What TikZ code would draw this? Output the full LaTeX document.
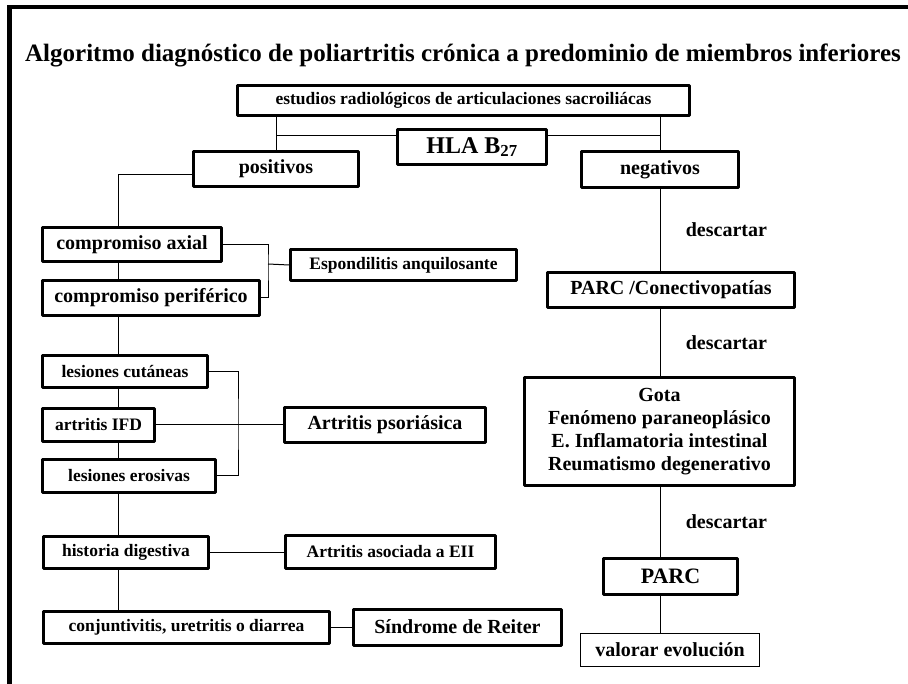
\documentclass[tikz,border=0pt]{standalone}
\usepackage{fontspec}
\setmainfont{Liberation Serif}

\begin{document}
\begin{tikzpicture}[x=1pt,y=-1pt,
					line width=1pt,
					%line join=round,
					big/.style={font=\bfseries\fontsize{20}{23}\selectfont},
					small/.style={font=\bfseries\fontsize{17.5}{20}\selectfont},
					sz/.style 2 args={minimum width=#1pt,minimum height=#2pt},
					main node/.style={rectangle,draw,line width=3pt,line join=round,fill=white,inner sep=0pt},
					thin node/.style={rectangle,draw,line width=1pt,fill=white,inner sep=0pt},
					label node/.style={anchor=west,xshift=22pt,big}]

  \useasboundingbox (0,0) rectangle (908,684);
  \draw[line width=4.5pt] (9.5,684) |- (908,7);

  \node[anchor=base,font=\bfseries\fontsize{25}{29}\selectfont] (title) at (463,62)
    {Algoritmo diagnóstico de poliartritis crónica a predominio de miembros inferiores};

  % top
  \node[main node,small,sz={452}{30}] (est) at (463.5,100.5) {estudios radiológicos de articulaciones sacroiliácas};
  \node[main node,big,sz={165}{35}] (pos) at (276,169) {positivos};
  \node[main node,big,sz={157}{36}] (neg) at (660,169.5) {negativos};
  \coordinate (hl) at (276,136);
  \coordinate (hr) at (660,136);
  \draw (est.south -| pos) -- (pos.north);
  \draw (est.south -| neg) -- (neg.north);
  \draw (hl) -- (hr);
  \node[main node,font=\bfseries\fontsize{24}{28}\selectfont,sz={149}{35}] (hla) at (472,147) {HLA B\textsubscript{27}};

  % left column
  \node[main node,big,sz={179}{34}] (ax) at (132,244.5) {compromiso axial};
  \node[main node,big,sz={217}{35}] (per) at (151,298) {compromiso periférico};
  \node[main node,small,sz={226}{31}] (esp) at (403.5,265) {Espondilitis anquilosante};
  \node[main node,small,sz={165}{32}] (cut) at (125,371.5) {lesiones cutáneas};
  \node[main node,small,sz={112}{33}] (ifd) at (98.5,425) {artritis IFD};
  \node[main node,big,sz={201}{35}] (pso) at (385,425) {Artritis psoriásica};
  \node[main node,small,sz={173}{33}] (ero) at (129,476) {lesiones erosivas};
  \node[main node,small,sz={165}{32}] (dig) at (126,552) {historia digestiva};
  \node[main node,small,sz={210}{33}] (eii) at (390.5,552) {Artritis asociada a EII};
  \node[main node,small,sz={286}{32}] (con) at (186.5,627) {conjuntivitis, uretritis o diarrea};
  \node[main node,big,sz={208}{36}] (rei) at (457.5,627) {Síndrome de Reiter};

  \coordinate (tk) at (118,175);
  \coordinate (b1) at (268,264);
  \coordinate (b2) at (238,425);
  \draw (pos.west |- tk) -- (tk) -- (tk |- ax.north);
  \foreach \a/\b in {ax/per,per/cut,cut/ifd,ifd/ero,ero/dig,dig/con}
    \draw (\a.south -| tk) -- (\b.north -| tk);
  \draw (ax.east) -| (b1) |- (per.east);
  \draw (b1) -- (esp.west);
  \draw (cut.east) -| (b2) |- (ero.east);
  \path (ifd) edge (pso)
        (dig) edge (eii)
        (con) edge (rei);

  % right column
  \node[main node,big,sz={247}{35}] (pcon) at (671,290) {PARC /Conectivopatías};
  \node[main node,big,align=center,sz={270}{108}] (gota) at (659.5,431.5)
    {Gota\\Fenómeno paraneoplásico\\E. Inflamatoria intestinal\\Reumatismo degenerativo};
  \node[main node,font=\bfseries\fontsize{22}{26}\selectfont,sz={134}{36}] (parc) at (670.5,576.5) {PARC};
  \node[thin node,big,sz={179}{33}] (val) at (670,650) {valorar evolución};

  \path (neg.south) edge node[label node] {descartar} (neg.south |- pcon.north)
        (pcon.south -| neg) edge node[label node] {descartar} (gota.north -| neg)
        (gota.south -| neg) edge node[label node] {descartar} (parc.north -| neg)
        (parc.south -| neg) edge (val.north -| neg);
\end{tikzpicture}
\end{document}
